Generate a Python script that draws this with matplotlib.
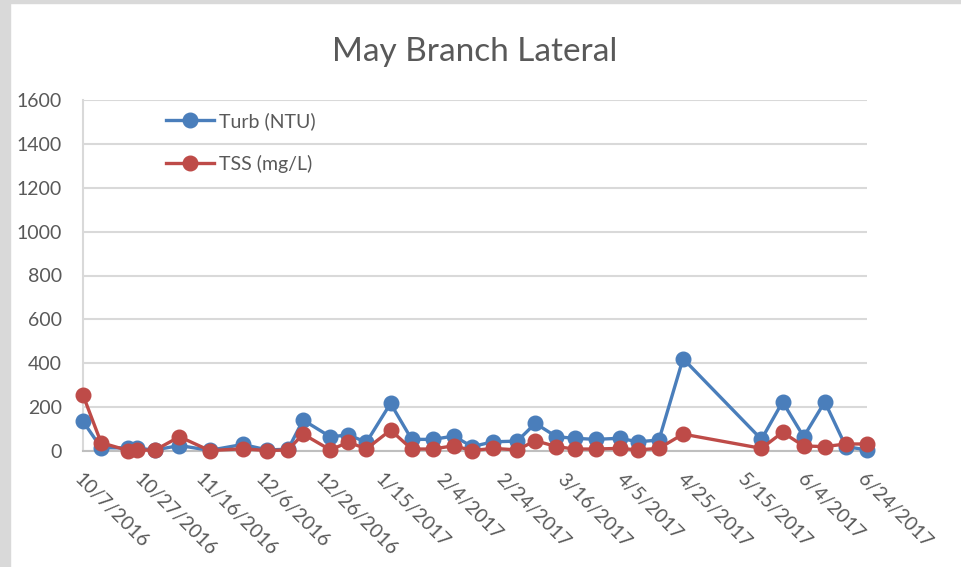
import datetime as dt

import matplotlib
matplotlib.use("Agg")
import matplotlib.pyplot as plt
import matplotlib.dates as mdates
from matplotlib.patches import Rectangle
from matplotlib.ticker import FuncFormatter

dates = [
    "2016-10-07", "2016-10-13", "2016-10-22", "2016-10-25", "2016-10-31",
    "2016-11-08", "2016-11-18", "2016-11-29", "2016-12-07", "2016-12-14",
    "2016-12-19", "2016-12-28", "2017-01-03", "2017-01-09", "2017-01-17",
    "2017-01-24", "2017-01-31", "2017-02-07", "2017-02-13", "2017-02-20",
    "2017-02-28", "2017-03-06", "2017-03-13", "2017-03-19", "2017-03-26",
    "2017-04-03", "2017-04-09", "2017-04-16", "2017-04-24", "2017-05-20",
    "2017-05-27", "2017-06-03", "2017-06-10", "2017-06-17", "2017-06-24",
]
turb = [135, 15, 14, 12, 5, 25, 3, 30, 5, 8, 141, 65, 73, 40, 217, 53, 53, 68,
        20, 42, 45, 126, 65, 58, 53, 58, 42, 50, 421, 53, 224, 65, 224, 20, 5]
tss = [255, 38, 2, 3, 5, 65, 2, 10, 2, 5, 77, 5, 40, 10, 95, 9, 9, 24,
       2, 12, 5, 47, 20, 9, 9, 12, 5, 12, 77, 12, 85, 23, 20, 32, 32]

x_start = "2016-10-07"
x_end = "2017-06-24"
y_ticks = [0, 200, 400, 600, 800, 1000, 1200, 1400, 1600]

plt.rcParams["font.family"] = ["Lato", "DejaVu Sans"]
text_color = "#595959"
grid_color = "#d9d9d9"


def main():
    d = [dt.datetime.strptime(s, "%Y-%m-%d") for s in dates]
    x0 = dt.datetime.strptime(x_start, "%Y-%m-%d")
    x1 = dt.datetime.strptime(x_end, "%Y-%m-%d")

    fig = plt.figure(figsize=(9.61, 5.67), dpi=100)
    fig.patches.append(Rectangle((0, 0), 10 / 961, 1, transform=fig.transFigure,
                                 color="#d9d9d9", zorder=0))
    fig.patches.append(Rectangle((0, 1 - 3 / 567), 1, 3 / 567, transform=fig.transFigure,
                                 color="#d9d9d9", zorder=0))
    ax = fig.add_axes([83 / 961, 1 - 451 / 567, 784 / 961, 351 / 567])

    ax.plot(d, turb, color="#4a7ebb", lw=2.4, marker="o", ms=10.5, label="Turb (NTU)",
            zorder=3, clip_on=False)
    ax.plot(d, tss, color="#be4b48", lw=2.4, marker="o", ms=10.5, label="TSS (mg/L)",
            zorder=4, clip_on=False)

    ax.set_xlim(x0, x1)
    ax.set_ylim(0, 1600)
    ax.set_yticks(y_ticks)
    ticks = [x0 + dt.timedelta(days=20 * i) for i in range(14)]
    ax.set_xticks(ticks)
    ax.xaxis.set_major_formatter(FuncFormatter(
        lambda v, p: "{}/{}/{}".format(mdates.num2date(v).month, mdates.num2date(v).day,
                                       mdates.num2date(v).year)))

    ax.grid(axis="y", color=grid_color, lw=1.5)
    ax.set_axisbelow(True)
    for s in ["top", "right"]:
        ax.spines[s].set_visible(False)
    ax.spines["left"].set_color(grid_color)
    ax.spines["left"].set_linewidth(1.5)
    ax.spines["bottom"].set_color("#bfbfbf")
    ax.spines["bottom"].set_linewidth(1.5)
    ax.tick_params(axis="both", length=0, colors=text_color, labelsize=14)
    ax.tick_params(axis="y", pad=15)
    ax.tick_params(axis="x", pad=14)
    for lab in ax.get_xticklabels():
        lab.set_rotation(-45)
        lab.set_ha("left")
        lab.set_va("top")
        lab.set_rotation_mode("anchor")

    ax.set_title("May Branch Lateral", fontsize=24, color=text_color, pad=28)

    leg = ax.legend(loc="upper left", bbox_to_anchor=(0.083, 1.015), frameon=False,
                    fontsize=14, labelspacing=1.25, handlelength=2.5, handletextpad=0.25)
    for t in leg.get_texts():
        t.set_color(text_color)

    fig.savefig("out.png", dpi=100)


if __name__ == "__main__":
    main()
